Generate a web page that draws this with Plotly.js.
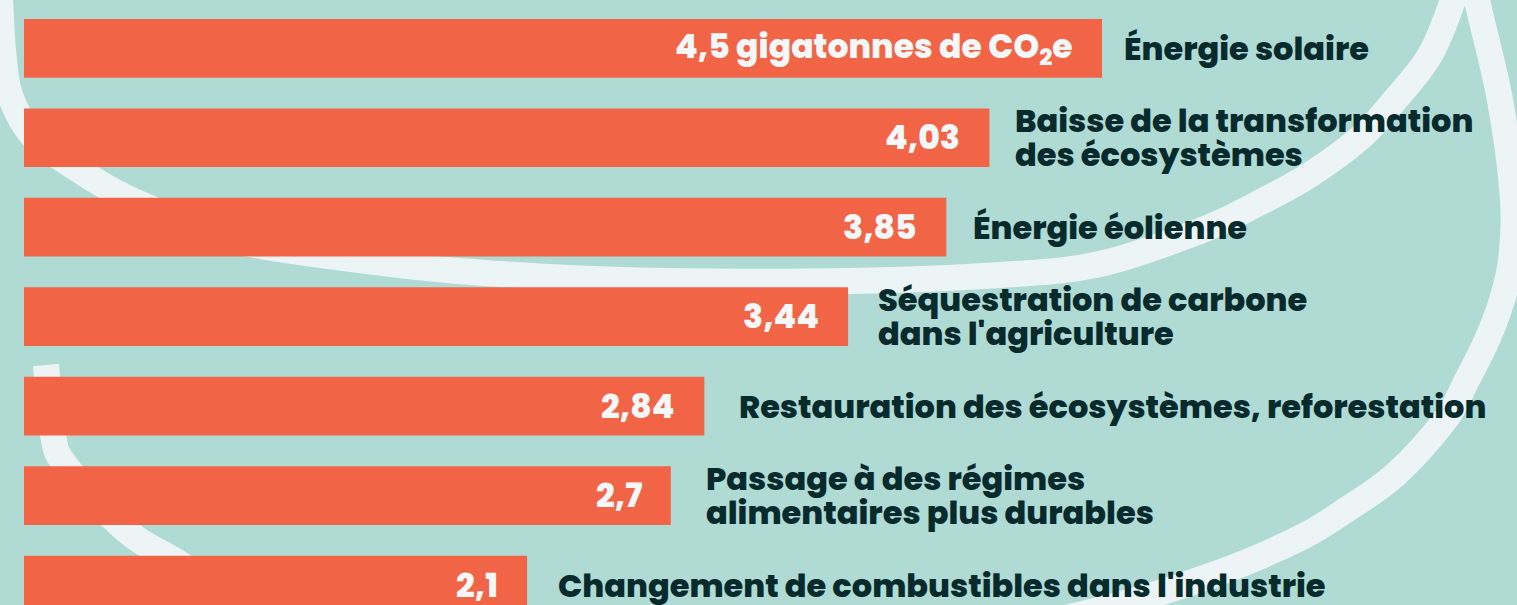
<!DOCTYPE html>
<html>
<head>
<meta charset="utf-8">
<script src="https://cdn.plot.ly/plotly-3.0.1.min.js"></script>
<style>
  html, body { margin: 0; padding: 0; background: #b0dbd5; }
  #chart { width: 1517px; height: 605px; }
</style>
</head>
<body>
<div id="chart"></div>
<script>
// ---- data ----
const categories = [
  "Énergie solaire",
  "Baisse de la transformation<br>des écosystèmes",
  "Énergie éolienne",
  "Séquestration de carbone<br>dans l'agriculture",
  "Restauration des écosystèmes, reforestation",
  "Passage à des régimes<br>alimentaires plus durables",
  "Changement de combustibles dans l'industrie"
];
const values = [4.5, 4.03, 3.85, 3.44, 2.84, 2.7, 2.1];
const valueLabels = ["4,5 gigatonnes de CO<sub>2</sub>e", "4,03", "3,85", "3,44", "2,84", "2,7", "2,1"];

// ---- style ----
const W = 1517, H = 605;
const BG = "#b0dbd5", BAR = "#f26446", DARK = "#072a2d", WHITE = "#f5f7f9", DECOR = "#ecf4f5";
const FONT = "Poppins, 'Open Sans', sans-serif";
const labelGap = [20, 24, 25, 28, 33, 33, 29];

// decorative background curves (pixel coords)
const curveA = [[-3,-30],[0,0],[3,50],[10,95],[32,135],[74,167],[125,197],[190,224],[250,244],[417,267],[550,277],[667,281],[850,281],[1000,275],[1100,264],[1200,231],[1257,204],[1308,176],[1360,138],[1395,100],[1430,55],[1453,0],[1460,-30]];
const curveB = [[1474,-30],[1477,0],[1500,100],[1513,200],[1511,260],[1502,300],[1487,340],[1467,380],[1445,420],[1395,475],[1343,512],[1300,538],[1221,572],[1110,607],[950,640],[700,660],[450,640],[250,595],[165,555],[120,525],[66,466],[53,435],[46,365]];

function px(p) { return [(p[0] / W).toFixed(5), (1 - p[1] / H).toFixed(5)]; }
function smoothPath(pts) {
  let d = "M" + px(pts[0]).join(",");
  for (let i = 0; i < pts.length - 1; i++) {
    const p0 = pts[Math.max(0, i - 1)], p1 = pts[i], p2 = pts[i + 1], p3 = pts[Math.min(pts.length - 1, i + 2)];
    const c1 = [p1[0] + (p2[0] - p0[0]) / 6, p1[1] + (p2[1] - p0[1]) / 6];
    const c2 = [p2[0] - (p3[0] - p1[0]) / 6, p2[1] - (p3[1] - p1[1]) / 6];
    d += " C" + px(c1).join(",") + " " + px(c2).join(",") + " " + px(p2).join(",");
  }
  return d;
}

const shapes = [curveA, curveB].map(c => ({
  type: "path", xref: "paper", yref: "paper", layer: "below",
  path: smoothPath(c), line: { color: DECOR, width: 26 }
}));

const annotations = [];
categories.forEach((cat, i) => {
  annotations.push({
    x: values[i], y: cat, xref: "x", yref: "y",
    text: valueLabels[i], showarrow: false,
    xanchor: "right", yanchor: "middle", xshift: -27, yshift: 0,
    font: { family: FONT, size: 33, color: WHITE, weight: 800 }
  });
  const lines = cat.split("<br>");
  lines.forEach((ln, j) => {
    const off = (lines.length - 1) / 2 - j;
    annotations.push({
      x: values[i], y: cat, xref: "x", yref: "y",
      text: ln, showarrow: false, align: "left",
      xanchor: "left", yanchor: "middle", xshift: labelGap[i], yshift: off * 34,
      font: { family: FONT, size: 32, color: DARK, weight: 800 }
    });
  });
});

const trace = {
  type: "bar", orientation: "h",
  x: values, y: categories,
  marker: { color: BAR, line: { width: 0 } },
  hoverinfo: "skip"
};

const layout = {
  width: W, height: H,
  margin: { l: 0, r: 0, t: 0, b: 0, pad: 0 },
  paper_bgcolor: BG, plot_bgcolor: BG,
  bargap: 0.344,
  showlegend: false,
  xaxis: { range: [-24 / 239.56, (W - 24) / 239.56], visible: false, fixedrange: true },
  yaxis: { type: "category", range: [(H - 48.3) / 89.45, -48.3 / 89.45], visible: false, fixedrange: true },
  shapes: shapes,
  annotations: annotations
};

Plotly.newPlot("chart", [trace], layout, { displayModeBar: false, staticPlot: true });
</script>
</body>
</html>
